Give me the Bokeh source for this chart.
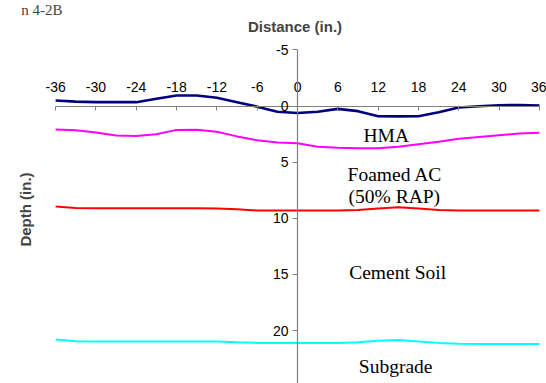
import math
from bokeh.plotting import figure
from bokeh.models import Range1d, LinearAxis, FixedTicker, Label
from bokeh.embed import file_html
from bokeh.resources import INLINE

# ---- data (inches) ----
distance = [-36, -33, -30, -27, -24, -21, -18, -15, -12, -9, -6, -3, 0,
            3, 6, 9, 12, 15, 18, 21, 24, 27, 30, 33, 36]
surface = [-0.5, -0.4, -0.35, -0.35, -0.35, -0.65, -0.95, -0.95, -0.75, -0.35, 0.05, 0.5, 0.62,
           0.5, 0.25, 0.45, 0.9, 0.92, 0.9, 0.55, 0.12, 0.02, -0.08, -0.1, -0.05]
hma_bottom = [2.09, 2.15, 2.35, 2.62, 2.66, 2.5, 2.12, 2.1, 2.28, 2.7, 3.05, 3.25, 3.32,
              3.62, 3.72, 3.75, 3.75, 3.62, 3.4, 3.18, 2.9, 2.75, 2.6, 2.45, 2.38]
foam_bottom = [8.95, 9.08, 9.1, 9.1, 9.1, 9.1, 9.1, 9.1, 9.12, 9.2, 9.3, 9.3, 9.3,
               9.3, 9.3, 9.25, 9.12, 9.02, 9.12, 9.25, 9.3, 9.3, 9.3, 9.3, 9.3]
cement_bottom = [20.8, 20.95, 20.97, 20.97, 20.97, 20.97, 20.97, 20.97, 20.97, 21.05, 21.1, 21.1, 21.1,
                 21.1, 21.1, 21.05, 20.9, 20.85, 20.97, 21.1, 21.18, 21.2, 21.2, 21.2, 21.2]

x_ticks = [-36, -30, -24, -18, -12, -6, 0, 6, 12, 18, 24, 30, 36]
y_ticks = [-5, 0, 5, 10, 15, 20, 25]

layer_names = ["HMA", "Foamed AC", "(50% RAP)", "Cement Soil", "Subgrade"]

SANS = "Liberation Sans"
SERIF = "Liberation Serif"

p = figure(width=546, height=383, output_backend="svg", toolbar_location=None,
           x_range=Range1d(-44.2, 37.05), y_range=Range1d(24.72, -9.41),
           x_axis_location=None, y_axis_location=None, min_border=0,
           background_fill_color="white", border_fill_color="white")
p.outline_line_color = None
p.grid.visible = False

# layer boundary lines
p.line(distance, surface, line_color="#000080", line_width=2.6)
p.line(distance, hma_bottom, line_color="#FF00FF", line_width=2)
p.line(distance, foam_bottom, line_color="#FF0000", line_width=2)
p.line(distance, cement_bottom, line_color="#00FFFF", line_width=2)

# axes crossing at (0, 0)
xaxis = LinearAxis(fixed_location=0, ticker=FixedTicker(ticks=x_ticks), bounds=(-36, 36))
yaxis = LinearAxis(fixed_location=0, ticker=FixedTicker(ticks=y_ticks), bounds=(-5, 25))
for ax, ticks in ((xaxis, x_ticks), (yaxis, y_ticks)):
    ax.axis_line_color = "#808080"
    ax.axis_line_width = 1.2
    ax.major_tick_line_color = "#808080"
    ax.minor_tick_line_color = None
    ax.major_label_text_font = SANS
    ax.major_label_text_font_size = "14px"
    ax.major_label_text_color = "black"
    ax.major_label_overrides = {t: str(t) for t in ticks}
xaxis.major_tick_in = 4
xaxis.major_tick_out = 0
xaxis.major_label_standoff = 14
yaxis.major_tick_in = 0
yaxis.major_tick_out = 5
yaxis.major_label_standoff = 4
p.add_layout(xaxis, "above")
p.add_layout(yaxis, "left")

# axis titles
p.add_layout(Label(x=294.5, y=383 - 25.5, x_units="screen", y_units="screen",
                   text="Distance (in.)", text_align="center", text_baseline="alphabetic",
                   text_font=SANS, text_font_style="bold", text_font_size="15px"))
p.add_layout(Label(x=24.5, y=383 - 209, x_units="screen", y_units="screen",
                   text="Depth (in.)", angle=math.pi / 2, text_align="center",
                   text_baseline="alphabetic",
                   text_font=SANS, text_font_style="bold", text_font_size="15px"))
# caption at top-left (cropped in the source)
p.add_layout(Label(x=62, y=383 - 9, x_units="screen", y_units="screen",
                   text="n 4-2B", text_align="right", text_baseline="alphabetic",
                   text_font=SERIF, text_font_size="15px"))

# layer names (data coordinates)
label_pos = [(13.2, 2.65), (14.5, 6.12), (14.4, 8.05), (14.9, 14.8), (14.6, 23.2)]
for name, (lx, ly) in zip(layer_names, label_pos):
    p.add_layout(Label(x=lx, y=ly, text=name, text_align="center", text_baseline="alphabetic",
                       text_font=SERIF, text_font_size="19.5px", text_color="black"))

open("out.html", "w").write(file_html(p, INLINE))
